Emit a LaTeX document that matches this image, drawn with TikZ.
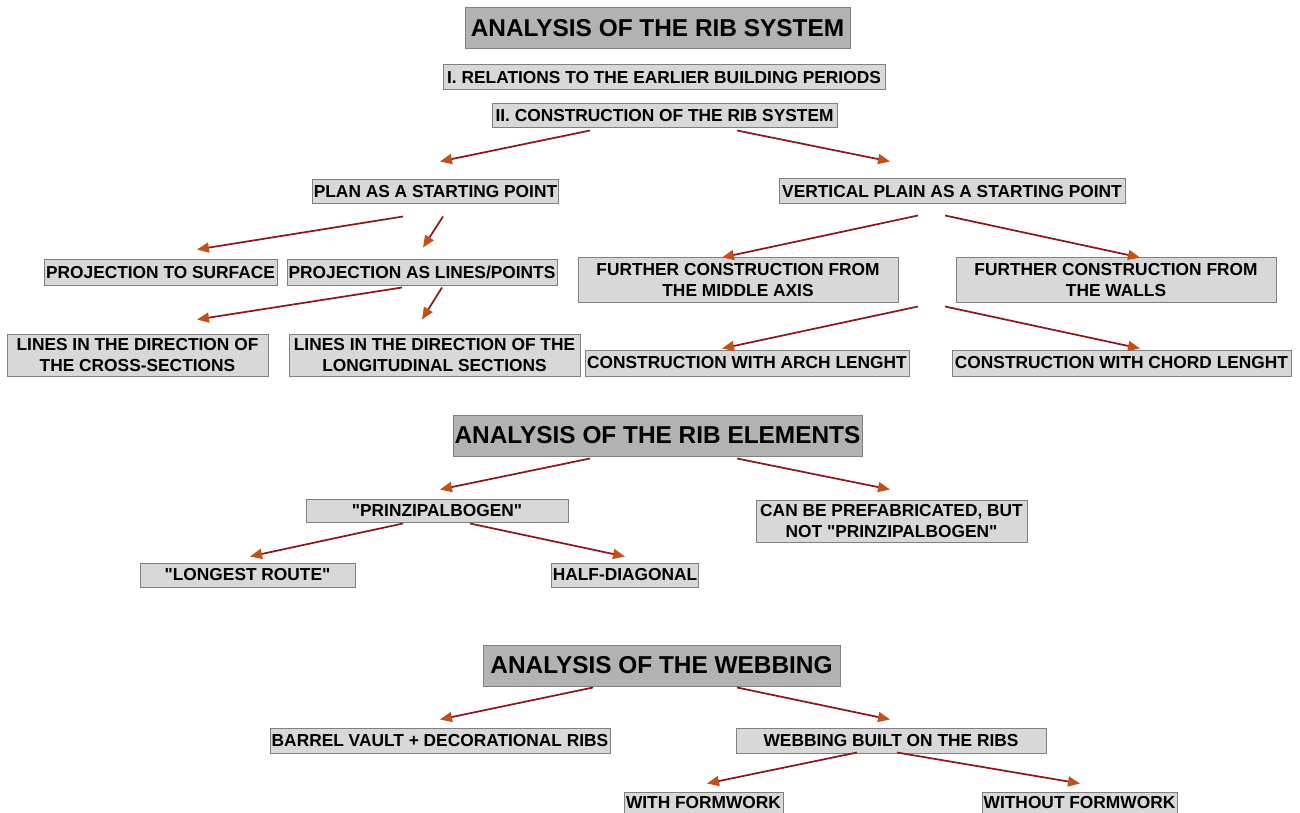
\documentclass[tikz,border=0pt]{standalone}
\usepackage{fontspec}
\setmainfont{Liberation Sans}
\usetikzlibrary{positioning,arrows.meta,calc}
\definecolor{ribline}{RGB}{140,25,25}
\definecolor{ribtip}{RGB}{195,80,25}
\definecolor{boxfill}{RGB}{216,216,216}
\definecolor{titlefill}{RGB}{178,178,178}
\definecolor{boxedge}{RGB}{128,128,128}

\begin{document}
\begin{tikzpicture}[
  x=0.75pt, y=-0.75pt,
  itembox/.style={draw=boxedge, line width=0.75pt, fill=boxfill, align=center, inner sep=1pt, font=\fontsize{13}{15.5}\selectfont\bfseries},
  titlebox/.style={itembox, fill=titlefill, font=\fontsize{18.3}{22}\selectfont\bfseries},
  sz/.style 2 args={minimum width=#1*0.75pt, minimum height=#2*0.75pt},
  flow/.style={draw=ribline, line width=1.3pt, -{Triangle[length=9pt,width=7.5pt,color=ribtip]}}
]
\fill[white] (0,0) rectangle (1300,813);
\useasboundingbox (0,0) rectangle (1300,813);

\node[titlebox, sz={385}{41}] (sys) at (657.5,28.5) {ANALYSIS OF THE RIB SYSTEM};
\node[itembox, sz={442}{25}] (rel) at (664,77.5) {I. RELATIONS TO THE EARLIER BUILDING PERIODS};
\node[itembox, sz={345}{24}] (cons) at (664.5,116) {II. CONSTRUCTION OF THE RIB SYSTEM};
\node[itembox, sz={245}{24}] (plan) at (435.5,192) {PLAN AS A STARTING POINT};
\node[itembox, sz={346}{25}] (vert) at (952,191.5) {VERTICAL PLAIN AS A STARTING POINT};
\node[itembox, sz={233}{25}] (psurf) at (160.5,272.5) {PROJECTION TO SURFACE};
\node[itembox, sz={270}{25}] (plines) at (422,272.5) {PROJECTION AS LINES/POINTS};
\node[itembox, sz={320}{44}] (fmid) at (738,280) {FURTHER CONSTRUCTION FROM\\THE MIDDLE AXIS};
\node[itembox, sz={320}{44}] (fwall) at (1116,280) {FURTHER CONSTRUCTION FROM\\THE WALLS};
\node[itembox, sz={261}{42}] (lcross) at (137.5,355) {LINES IN THE DIRECTION OF\\THE CROSS-SECTIONS};
\node[itembox, sz={291}{42}] (llong) at (434.5,355) {LINES IN THE DIRECTION OF THE\\LONGITUDINAL SECTIONS};
\node[itembox, sz={324}{26}] (carch) at (747,363) {CONSTRUCTION WITH ARCH LENGHT};
\node[itembox, sz={339}{26}] (cchord) at (1121.5,363) {CONSTRUCTION WITH CHORD LENGHT};
\coordinate (split) at (vert.south |- fmid.south);

\node[titlebox, sz={409}{41}] (elem) at (657.5,435.5) {ANALYSIS OF THE RIB ELEMENTS};
\node[itembox, sz={262}{23}] (prinz) at (437,510.5) {\textquotedbl PRINZIPALBOGEN\textquotedbl};
\node[itembox, sz={271}{42}] (prefab) at (891.5,521) {CAN BE PREFABRICATED, BUT\\NOT \textquotedbl PRINZIPALBOGEN\textquotedbl};
\node[itembox, sz={215}{24}] (longest) at (247.5,575) {\textquotedbl LONGEST ROUTE\textquotedbl};
\node[itembox, sz={146}{24}] (half) at (625,575) {HALF-DIAGONAL};

\node[titlebox, sz={357}{41}] (web) at (661.5,665.5) {ANALYSIS OF THE WEBBING};
\node[itembox, sz={340}{25}] (barrel) at (440,740.5) {BARREL VAULT + DECORATIONAL RIBS};
\node[itembox, sz={310}{25}] (webrib) at (891,740.5) {WEBBING BUILT ON THE RIBS};
\node[itembox, sz={159}{21}] (withf) at (703.5,802.5) {WITH FORMWORK};
\node[itembox, sz={195}{21}] (without) at (1079.5,802.5) {WITHOUT FORMWORK};

\draw[flow] ($(cons.south)+(-74.5,2)$) -- ($(plan.north)+(4.5,-18)$);
\draw[flow] ($(cons.south)+(72.5,2)$) -- ($(vert.north)+(-62,-17)$);
\draw[flow] ($(plan.south)+(-32.5,12)$) -- ($(psurf.north)+(36.5,-10)$);
\draw[flow] ($(plan.south)+(7.5,12)$) -- ($(plines.north)+(1,-12)$);
\draw[flow] ($(vert.south)+(-34,11)$) -- ($(fmid.north)+(-16,0)$);
\draw[flow] ($(vert.south)+(-7,11)$) -- ($(fwall.north)+(24,0)$);
\draw[flow] ($(plines.south)+(-20,2)$) -- ($(lcross.north)+(59.5,-14)$);
\draw[flow] ($(plines.south)+(20,2)$) -- ($(llong.north)+(-12.5,-14)$);
\draw[flow] ($(split)+(-34,4)$) -- ($(carch.north)+(-25,-1)$);
\draw[flow] ($(split)+(-7,4)$) -- ($(cchord.north)+(18.5,-1)$);
\draw[flow] ($(elem.south)+(-67.5,2)$) -- ($(prinz.north)+(3,-9)$);
\draw[flow] ($(elem.south)+(79.5,2)$) -- ($(prefab.north)+(-1.5,-10)$);
\draw[flow] ($(prinz.south)+(-34,1)$) -- ($(longest.north)+(2.5,-6)$);
\draw[flow] ($(prinz.south)+(33,1)$) -- ($(half.north)+(0,-6)$);
\draw[flow] ($(web.south)+(-68.5,1)$) -- ($(barrel.north)+(0,-8)$);
\draw[flow] ($(web.south)+(75.5,1)$) -- ($(webrib.north)+(-1,-8)$);
\draw[flow] ($(webrib.south)+(-34,-1)$) -- ($(withf.north)+(3.5,-8)$);
\draw[flow] ($(webrib.south)+(6,-1)$) -- ($(without.north)+(0.5,-8)$);
\end{tikzpicture}
\end{document}
